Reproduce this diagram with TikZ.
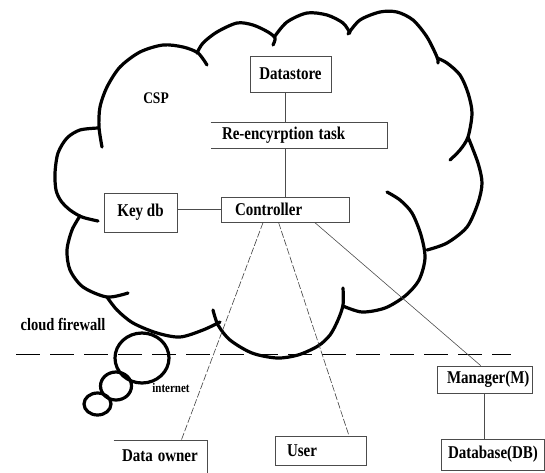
\documentclass[tikz,border=0pt]{standalone}
\usepackage{fontspec}
\setmainfont{Liberation Serif}
\usetikzlibrary{calc}

\newcommand{\tallt}[1]{\scalebox{1}[1.2]{#1}}
\tikzset{
  cloudline/.style = {line width=3.2pt, line cap=round},
  boxline/.style = {draw=black!70, line width=0.8pt},
  link/.style = {draw, black!75, line width=0.6pt, dash pattern=on 7pt off 2pt},
}

\begin{document}
\begin{tikzpicture}[x=1pt, y=-1pt]
\useasboundingbox (0,0) rectangle (545,472);
\clip (0,0) rectangle (545,472);
% cloud, one lobe at a time
\begin{scope}[cloudline]
\draw plot[smooth] coordinates {(98,128) (80,130) (67,138) (58,153) (55,173) (56,190) (61,201) (70,210) (82,217) (98,221)};
\draw plot[smooth] coordinates {(102,147) (99,127) (100,107) (107,87) (120,67) (140,52) (163,45) (183,47) (198,53) (207,65)};
\draw plot[smooth] coordinates {(197,53) (203,43) (217,32) (237,23) (253,25) (268,32) (275,38) (273,45)};
\draw plot[smooth] coordinates {(275,36) (287,22) (307,13) (327,15) (343,23) (350,33)};
\draw plot[smooth] coordinates {(348,34) (360,20) (380,12) (397,12) (413,20) (427,37) (437,57) (438,63)};
\draw plot[smooth] coordinates {(437,58) (447,63) (460,75) (468,93) (472,113) (468,137) (460,150) (450,160)};
\draw plot[smooth] coordinates {(468,137) (478,163) (482,183) (478,203) (467,227) (447,243) (427,250)};
\draw plot[smooth] coordinates {(387,192) (400,200) (412,213) (421,235) (425,258) (419,280) (405,296) (385,308) (362,312) (343,306)};
\draw plot[smooth] coordinates {(343,288) (343,305) (338,320) (330,335) (318,346) (298,355) (277,358) (252,353) (230,340) (218,325) (213,310)};
\draw plot[smooth] coordinates {(107,297) (117,310) (133,323) (157,333) (180,337) (203,330) (220,322)};
\draw plot[smooth] coordinates {(80,216) (72,230) (67,250) (70,270) (83,287) (107,297) (128,293)};
% bubbles
\draw (142,358) ellipse [x radius=27, y radius=25];
\draw (116,386) ellipse [x radius=15.5, y radius=14];
\draw (97.5,404) ellipse [x radius=13.5, y radius=11];
\end{scope}
% firewall
\draw[line width=0.8pt, dash pattern=on 24pt off 10pt] (16,354) -- (511,354);

\begin{scope}[every node/.style = {rectangle, boxline, inner sep=0pt, font=\bfseries\fontsize{15}{18}\selectfont}]
\node[minimum width=81pt, minimum height=36pt] (DS) at (290.5, 74) {\tallt{Datastore}};
\node[draw=none, text width=154pt, inner xsep=11pt, minimum height=25pt, align=left] (RT) at (299, 135.5) {\tallt{Re-encyrption task}};
\node[minimum width=73pt, minimum height=39pt] (KD) at (140.5, 212.5) {\tallt{Key db}};
\node[text width=100pt, inner xsep=14pt, minimum height=25pt, align=left] (Ct) at (285, 209.5) {\tallt{Controller}};
\node[text width=75pt, inner xsep=10pt, minimum height=27pt, align=left] (Mg) at (484.5, 379.5) {\tallt{Manager(M)}};
\node[text width=89pt, inner xsep=7pt, minimum height=31pt, align=left] (DB) at (492.5, 454.5) {\tallt{Database(DB)}};
\node[text width=67pt, inner xsep=12pt, minimum height=29pt, align=left] (Us) at (320.5, 450.5) {\tallt{User}};
\node[draw=none, text width=77pt, inner xsep=8pt, minimum height=30pt, align=left] (DO) at (160.5, 456) {\tallt{Data owner}};
\end{scope}
\draw[boxline] (RT.north west) -- (RT.north east) -- (RT.south east) -- (RT.south west);
\draw[boxline] (DO.north west) -- (DO.north east) -- (DO.south east) -- ++(0,10);

\begin{scope}[every node/.style = {font=\bfseries}]
\node[font=\bfseries\fontsize{13.5}{16}\selectfont] (csp) at (156, 98) {\tallt{CSP}};
\node[font=\bfseries\fontsize{14.5}{17}\selectfont] (fw) at (63, 324) {\tallt{cloud firewall}};
\node[font=\bfseries\fontsize{11}{13}\selectfont] (inet) at (171, 388) {\tallt{internet}};
\end{scope}

\begin{scope}[every edge/.style = {boxline}]
\path (DS.south -| Ct.north) edge (RT.north -| Ct.north);
\path (RT.south -| Ct.north) edge (Ct.north);
\path (Ct.west -| KD.east) edge (Ct.west);
\path (Mg.south) edge (Mg.south |- DB.north);
\end{scope}
\path[link] ($(Ct.south west)!0.33!(Ct.south east)$) -- ($(DO.north west)!0.72!(DO.north east)$);
\path[link] ($(Ct.south west)!0.45!(Ct.south east)$) -- ($(Us.north west)!0.81!(Us.north east)$);
\path[draw, black!70, line width=0.6pt] ($(Ct.south west)!0.73!(Ct.south east)$) -- ($(Mg.north west)!0.46!(Mg.north east)$);
\end{tikzpicture}
\end{document}
